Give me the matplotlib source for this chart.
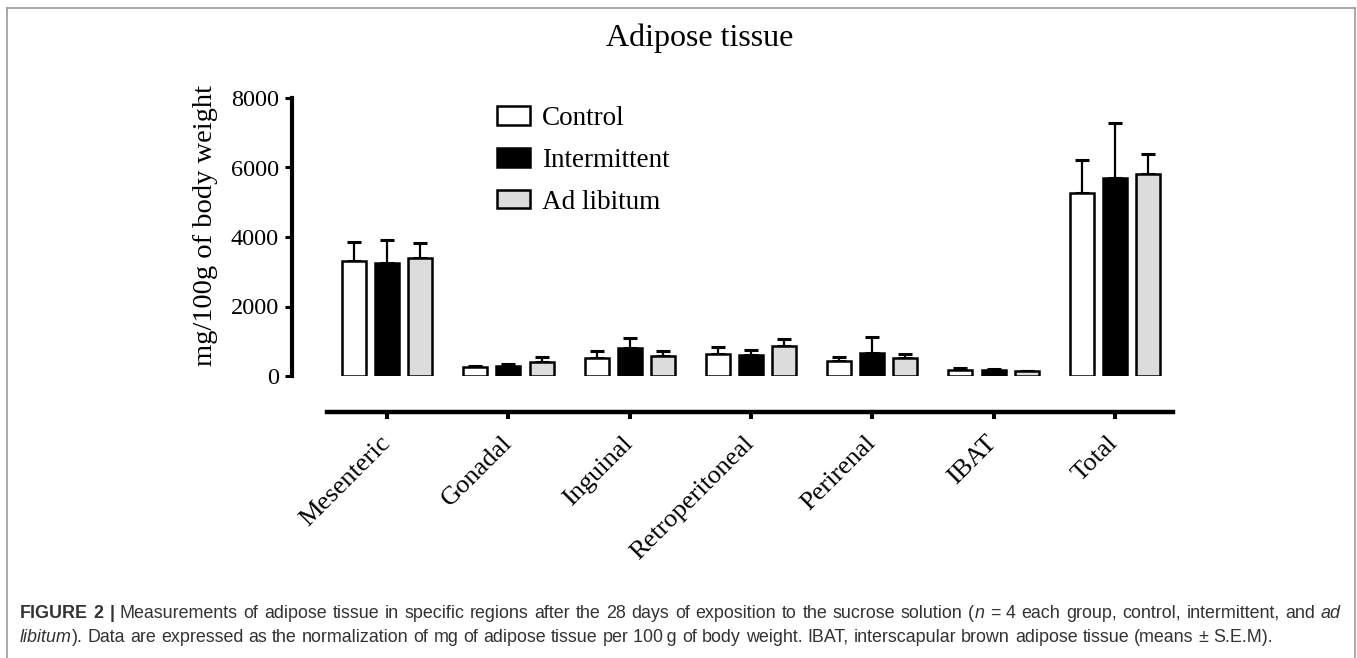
import re
import matplotlib
matplotlib.use('Agg')
import matplotlib.pyplot as plt
import numpy as np
from matplotlib.patches import Patch
from matplotlib.lines import Line2D

categories = ['Mesenteric', 'Gonadal', 'Inguinal', 'Retroperitoneal', 'Perirenal', 'IBAT', 'Total']
series_names = ['Control', 'Intermittent', 'Ad libitum']
control = [3310, 250, 520, 630, 430, 170, 5265]
control_sem = [545, 40, 200, 205, 115, 60, 950]
intermittent = [3250, 290, 805, 600, 660, 160, 5700]
intermittent_sem = [665, 55, 290, 150, 460, 40, 1580]
ad_libitum = [3395, 400, 575, 860, 520, 130, 5810]
ad_libitum_sem = [430, 145, 145, 205, 110, 25, 580]
yticks = [0, 2000, 4000, 6000, 8000]

W, H = 1357, 658
SERIF = 'Liberation Serif'
SANS = 'Liberation Sans'

fig = plt.figure(figsize=(W / 100, H / 100), dpi=100)
ax = fig.add_axes([292 / W, 1 - 376 / H, (1173 - 292) / W, (376 - 98) / H])

x = np.arange(len(categories))
pitch = 0.273
width = 0.198
colors = ['white', 'black', '#dcdcdc']
groups = [(control, control_sem), (intermittent, intermittent_sem), (ad_libitum, ad_libitum_sem)]

for k, ((vals, sem), c) in enumerate(zip(groups, colors)):
    pos = x + (k - 1) * pitch
    ax.errorbar(pos, vals, yerr=[np.zeros(len(vals)), sem], fmt='none', ecolor='black',
                elinewidth=1.6, capsize=4.7, capthick=2.2, zorder=1)
    ax.bar(pos, vals, width, color=c, edgecolor='black', linewidth=1.8, zorder=2)

ax.set_ylim(0, 8000)
ax.set_xlim(-0.785, 6.48)
ax.spines['top'].set_visible(False)
ax.spines['right'].set_visible(False)
ax.spines['left'].set_linewidth(3.0)
ax.spines['bottom'].set_linewidth(3.2)
ax.spines['left'].set_bounds(0, 8000)
ax.spines['bottom'].set_bounds(-0.496, 6.48)
ax.spines['bottom'].set_position(('outward', 26))

ax.set_yticks(yticks)
ax.set_yticklabels([str(v) for v in yticks], family=SERIF, fontsize=17.5)
ax.tick_params(axis='y', length=5, width=2.2, pad=4.5)
ax.set_xticks(x)
ax.set_xticklabels(categories, family=SERIF, fontsize=19, rotation=45,
                   ha='right', va='center', rotation_mode='anchor')
ax.tick_params(axis='x', length=5, width=2.9, pad=15)

fig.text(205 / W, 1 - 226 / H, 'mg/100g of body weight', family=SERIF, fontsize=20.5,
         rotation=90, ha='center', va='center')
fig.text(700 / W, 1 - 38 / H, 'Adipose tissue', family=SERIF, fontsize=23,
         ha='center', va='center')

handles = [Patch(facecolor=c, edgecolor='black', linewidth=1.8) for c in colors]
fig.legend(handles, series_names, loc='upper left', bbox_to_anchor=(497 / W, 1 - 106 / H),
           frameon=False, prop=dict(family=SERIF, size=19.5), handlelength=1.2,
           handleheight=0.68, handletextpad=0.47, labelspacing=0.62,
           borderpad=0, borderaxespad=0)

# frame around the figure
for xs, ys in [([7, 7], [8, H]), ([7, 1355], [8, 8]), ([1355, 1355], [8, H])]:
    fig.add_artist(Line2D([v / W for v in xs], [1 - v / H for v in ys],
                          transform=fig.transFigure, color='#9a9a9a', lw=1.2))

# caption, drawn word by word so the first line can be justified
renderer = fig.canvas.get_renderer()
cap_size = 12.9
cap_color = '#333333'


def text_width(s, weight='normal', style='normal'):
    t = fig.text(0, 0, s, fontsize=cap_size, family=SANS, weight=weight, style=style)
    w = t.get_window_extent(renderer).width
    t.remove()
    return w


space_w = text_width('a a') - text_width('aa')


def draw_line(x0, y, parts, right=None):
    tokens = []
    for s, weight, style in parts:
        for tok in re.findall(r' +|[^ ]+', s):
            tokens.append((tok, weight, style))
    words = [(t, wt, st, text_width(t, wt, st)) for t, wt, st in tokens if not t.startswith(' ')]
    n_sp = sum(len(t) for t, _, _ in tokens if t.startswith(' '))
    gap = space_w
    if right is not None and n_sp:
        gap = (right - x0 - sum(w[3] for w in words)) / n_sp
    xp = x0
    for t, wt, st in tokens:
        if t.startswith(' '):
            xp += len(t) * gap
            continue
        fig.text(xp / W, 1 - y / H, t, fontsize=cap_size, family=SANS,
                 weight=wt, style=st, color=cap_color, va='center')
        xp += text_width(t, wt, st)


draw_line(20, 613, [
    ('FIGURE 2 |', 'bold', 'normal'),
    (' Measurements of adipose tissue in specific regions after the 28 days of exposition '
     'to the sucrose solution (', 'normal', 'normal'),
    ('n', 'normal', 'italic'),
    (' = 4 each group, control, intermittent, and ', 'normal', 'normal'),
    ('ad', 'normal', 'italic'),
], right=1341)
draw_line(20, 637, [
    ('libitum', 'normal', 'italic'),
    ('). Data are expressed as the normalization of mg of adipose tissue per 100\u2009g of body '
     'weight. IBAT, interscapular brown adipose tissue (means \u00b1 S.E.M).', 'normal', 'normal'),
])

fig.savefig('out.png', dpi=100)
